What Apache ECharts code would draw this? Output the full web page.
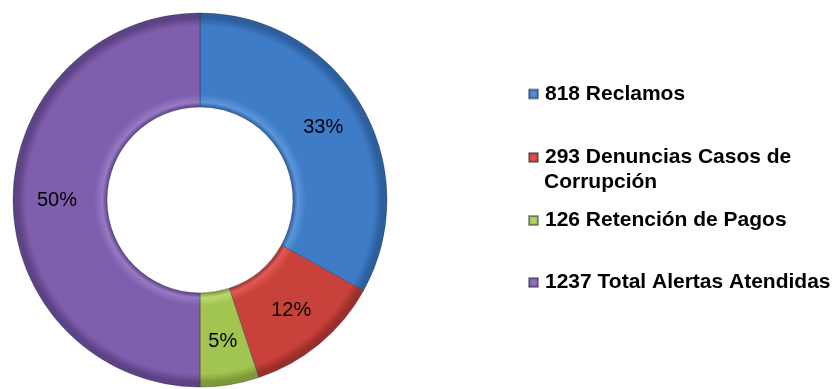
<!DOCTYPE html>
<html>
<head>
<meta charset="utf-8">
<script src="https://cdn.jsdelivr.net/npm/echarts@6/dist/echarts.min.js"></script>
<style>
  html, body { margin: 0; padding: 0; background: #ffffff; }
  #chart { width: 838px; height: 389px; }
</style>
</head>
<body>
<div id="chart"></div>
<script>
// Alert counts by type
const values = [818, 293, 126, 1237];
// Category names, split where the legend wraps
const categoryLines = [
  ['Reclamos'],
  ['Denuncias Casos de', 'Corrupción'],
  ['Retención de Pagos'],
  ['Total Alertas Atendidas']
];
// Legend row centres (first line of each entry)
const legendRowY = [94, 157.5, 220.5, 282.5];

const baseColors = ['#3f7cc8', '#c9413b', '#a2c451', '#7e5ead'];
const darkColors = ['#2d5f9e', '#9c2e29', '#7d9a36', '#5d4385'];
const lightColors = ['#5c95da', '#e05b54', '#bcd96e', '#9779c4'];

const CX = 200, CY = 200, R_OUT = 187, R_IN = 93;
const FONT = '"Liberation Sans", Arial, sans-serif';

const names = values.map((v, i) => v + ' ' + categoryLines[i].join(' '));

// Bevel-like shading for each ring sector
function ringGradient(i) {
  const inner = R_IN / R_OUT;
  return {
    type: 'radial', x: CX, y: CY, r: R_OUT, global: true,
    colorStops: [
      { offset: 0, color: baseColors[i] },
      { offset: inner, color: darkColors[i] },
      { offset: inner + 0.025, color: lightColors[i] },
      { offset: inner + 0.07, color: baseColors[i] },
      { offset: 0.93, color: baseColors[i] },
      { offset: 0.975, color: darkColors[i] },
      { offset: 1, color: darkColors[i] }
    ]
  };
}

function iconGradient(i) {
  return {
    type: 'radial', x: 0.5, y: 0.5, r: 0.7,
    colorStops: [
      { offset: 0, color: lightColors[i] },
      { offset: 0.6, color: baseColors[i] },
      { offset: 1, color: darkColors[i] }
    ]
  };
}

const seriesData = values.map((v, i) => ({
  name: names[i],
  value: v,
  itemStyle: { color: ringGradient(i) }
}));

const legends = values.map((v, i) => ({
  orient: 'vertical',
  left: 528,
  top: legendRowY[i] - 12,
  padding: 0,
  icon: 'rect',
  itemWidth: 9,
  itemHeight: 9,
  selectedMode: false,
  textStyle: {
    fontFamily: FONT, fontSize: 21, fontWeight: 'bold', color: '#000',
    lineHeight: 24, padding: [0, 0, 0, 2]
  },
  formatter: () => v + ' ' + categoryLines[i][0],
  data: [{ name: names[i], itemStyle: { color: iconGradient(i) } }]
}));

// Wrapped continuation lines of legend entries
const extraLines = [];
categoryLines.forEach((lines, i) => {
  lines.slice(1).forEach((t, k) => {
    extraLines.push({
      type: 'text',
      left: 544,
      top: legendRowY[i] + 25 * (k + 1) - 12,
      style: {
        text: t, fontFamily: FONT, fontSize: 21, fontWeight: 'bold',
        fill: '#000', lineHeight: 24
      }
    });
  });
});

const chart = echarts.init(document.getElementById('chart'), null, { renderer: 'canvas' });
chart.setOption({
  backgroundColor: '#ffffff',
  animation: false,
  legend: legends,
  graphic: extraLines,
  series: [{
    type: 'pie',
    center: [CX, CY],
    radius: [R_IN, R_OUT],
    startAngle: 90,
    clockwise: true,
    avoidLabelOverlap: false,
    itemStyle: { borderColor: 'rgba(40,40,60,0.45)', borderWidth: 0.8 },
    label: {
      show: true,
      position: 'inside',
      fontFamily: FONT,
      fontSize: 20,
      color: '#000',
      formatter: p => Math.round(p.percent) + '%'
    },
    labelLine: { show: false },
    emphasis: { disabled: true },
    data: seriesData
  }]
});
</script>
</body>
</html>
